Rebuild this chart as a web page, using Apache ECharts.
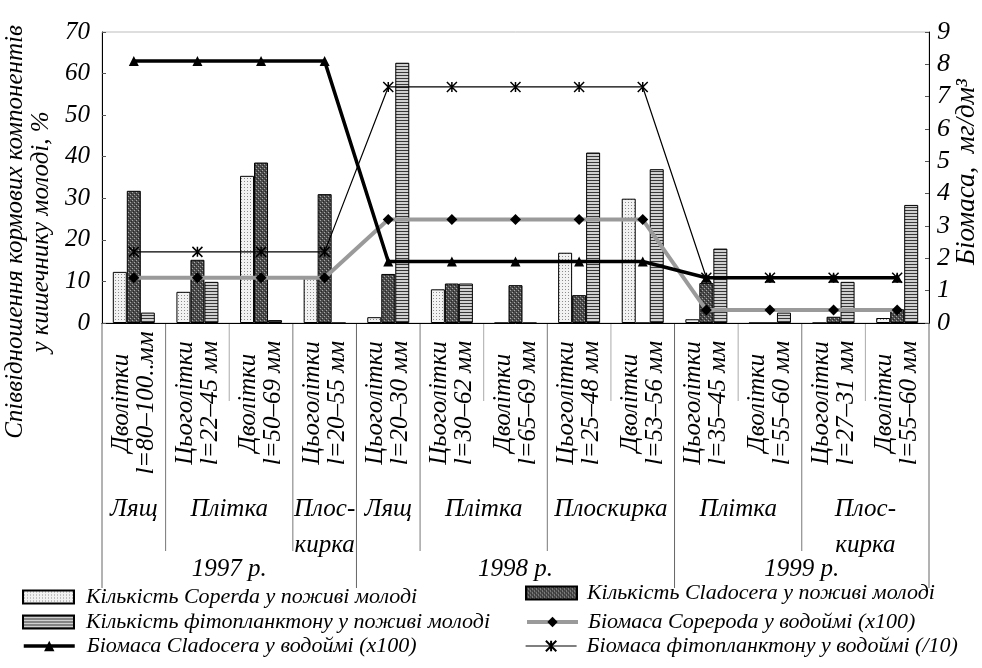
<!DOCTYPE html>
<html>
<head>
    <meta charset="utf-8">
    <title>ECharts</title>
    <script src="https://cdn.jsdelivr.net/npm/echarts@6/dist/echarts.min.js"></script>
</head>
<body style="margin:0;background:#fff">
    <div id="main" style="width: 982px;height:668px;"></div>
    <script type="text/javascript">
// --- data ---
var ages = ['Дволітки', 'Цьоголітки', 'Дволітки', 'Цьоголітки', 'Цьоголітки', 'Цьоголітки', 'Дволітки',
            'Цьоголітки', 'Дволітки', 'Цьоголітки', 'Дволітки', 'Цьоголітки', 'Дволітки'];
var lengths = ['l=80–100..мм', 'l=22–45 мм', 'l=50–69 мм', 'l=20–55 мм', 'l=20–30 мм', 'l=30–62 мм', 'l=65–69 мм',
               'l=25–48 мм', 'l=53–56 мм', 'l=35–45 мм', 'l=55–60 мм', 'l=27–31 мм', 'l=55–60 мм'];
var species = ['Лящ', 'Плітка', 'Плос-\nкирка', 'Лящ', 'Плітка', 'Плоскирка', 'Плітка', 'Плос-\nкирка'];
var speciesSpan = [1, 2, 1, 1, 2, 2, 2, 2];
var years = ['1997 р.', '1998 р.', '1999 р.'];
var yearSpan = [4, 5, 4];

var copepodCount   = [12.3, 7.5, 35.4, 11.3, 1.4, 8.1, 0, 16.9, 29.9, 0.9, 0, 0, 1.2];
var cladoceraCount = [31.8, 15.2, 38.6, 31.0, 11.8, 9.5, 9.1, 6.7, 0, 9.6, 0, 1.5, 3.3];
var phytoCount     = [2.5, 9.9, 0.7, 0, 62.6, 9.5, 0, 41.0, 37.0, 17.9, 2.5, 9.9, 28.4];

var cladoceraBio = [8.1, 8.1, 8.1, 8.1, 1.9, 1.9, 1.9, 1.9, 1.9, 1.4, 1.4, 1.4, 1.4];
var copepodaBio  = [1.4, 1.4, 1.4, 1.4, 3.2, 3.2, 3.2, 3.2, 3.2, 0.4, 0.4, 0.4, 0.4];
var phytoBio     = [2.2, 2.2, 2.2, 2.2, 7.3, 7.3, 7.3, 7.3, 7.3, 1.4, 1.4, 1.4, 1.4];

var leftTicks = [0, 10, 20, 30, 40, 50, 60, 70];
var rightTicks = [0, 1, 2, 3, 4, 5, 6, 7, 8, 9];

var categories = ages.map(function (a, i) { return a + '\n' + lengths[i]; });

var FONT = 'Liberation Serif';

// small canvas patterns for the bar fills
function pattern(w, h, draw) {
    var c = document.createElement('canvas');
    c.width = w; c.height = h;
    draw(c.getContext('2d'));
    return { image: c, repeat: 'repeat' };
}
var dotFill = pattern(3, 3, function (g) {
    g.fillStyle = '#f2f2f2'; g.fillRect(0, 0, 3, 3);
    g.fillStyle = '#8c8c8c'; g.fillRect(1, 1, 1, 1);
});
var hatchFill = pattern(4, 4, function (g) {
    g.fillStyle = '#4c4c4c'; g.fillRect(0, 0, 4, 4);
    g.fillStyle = '#a8a8a8'; g.fillRect(0, 0, 1, 1); g.fillRect(2, 2, 1, 1);
    g.fillStyle = '#262626'; g.fillRect(1, 3, 1, 1); g.fillRect(3, 1, 1, 1);
});
var stripeFill = pattern(4, 3, function (g) {
    g.fillStyle = '#d0d0d0'; g.fillRect(0, 0, 4, 3);
    g.fillStyle = '#383838'; g.fillRect(0, 0, 4, 1);
});

var myChart = echarts.init(document.getElementById('main'));

var labelStyle = { fontFamily: FONT, fontStyle: 'italic', color: '#000' };

var names = {
    cop: 'Кількість Coperda у поживі молоді',
    cla: 'Кількість Cladocera у поживі молоді',
    phy: 'Кількість фітопланктону у поживі молоді',
    bcla: 'Біомаса Cladocera у водоймі (x100)',
    bcop: 'Біомаса Copepoda у водоймі (x100)',
    bphy: 'Біомаса фітопланктону у водоймі (/10)'
};
var barNames = [names.cop, names.cla, names.phy];
var lineLegendWidth = {};
lineLegendWidth[names.bcla] = 3.5;
lineLegendWidth[names.bcop] = 4;
lineLegendWidth[names.bphy] = 1.2;

// one legend per entry, two columns of three
var legendCols = [[names.cop, names.phy, names.bcla], [names.cla, names.bcop, names.bphy]];
var legendLeft = [22, 525];
var legendTop = [[585, 610, 634], [581, 610, 634]];
var legends = [];
legendCols.forEach(function (col, c) {
    col.forEach(function (name, r) {
        var l = {
            left: legendLeft[c], top: legendTop[c][r], padding: 0,
            itemWidth: 51, itemHeight: 13, selectedMode: false,
            textStyle: { fontFamily: FONT, fontStyle: 'italic', fontSize: 22, color: '#000',
                         lineHeight: 24, padding: [0, 0, 0, c === 0 ? 7 : 5] },
            data: [name]
        };
        if (barNames.indexOf(name) >= 0) l.icon = 'rect';
        else l.lineStyle = { width: lineLegendWidth[name] };
        legends.push(l);
    });
});

option = {
    backgroundColor: '#fff',
    animation: false,
    grid: { left: 102, right: 53, top: 32, bottom: 345, show: true, borderColor: '#bdbdbd', borderWidth: 1 },
    legend: legends,
    xAxis: {
        type: 'category',
        data: categories,
        axisLine: { lineStyle: { color: '#000', width: 1 } },
        axisTick: { show: false },
        axisLabel: Object.assign({
            interval: 0, rotate: 90, align: 'center', verticalAlign: 'middle',
            margin: 80, fontSize: 25, lineHeight: 25
        }, labelStyle)
    },
    yAxis: [
        {
            type: 'value', min: leftTicks[0], max: leftTicks[leftTicks.length - 1], interval: 10,
            splitLine: { show: false },
            axisLine: { show: true, lineStyle: { color: '#000' } },
            axisTick: { show: true, inside: true, length: 4, lineStyle: { color: '#555' } },
            axisLabel: Object.assign({ fontSize: 25, margin: 12 }, labelStyle)
        },
        {
            type: 'value', min: rightTicks[0], max: rightTicks[rightTicks.length - 1], interval: 1,
            splitLine: { show: false },
            axisLine: { show: true, lineStyle: { color: '#000' } },
            axisTick: { show: true, inside: true, length: 4, lineStyle: { color: '#555' } },
            axisLabel: Object.assign({ fontSize: 26, margin: 8 }, labelStyle)
        }
    ],
    series: [
        {
            name: names.cop, type: 'bar', data: copepodCount, barWidth: 14, barGap: '0%',
            itemStyle: { color: dotFill, borderColor: '#000', borderWidth: 1 }
        },
        {
            name: names.cla, type: 'bar', data: cladoceraCount, barWidth: 14, barGap: '0%',
            itemStyle: { color: hatchFill, borderColor: '#000', borderWidth: 1 }
        },
        {
            name: names.phy, type: 'bar', data: phytoCount, barWidth: 14, barGap: '0%',
            itemStyle: { color: stripeFill, borderColor: '#000', borderWidth: 1 }
        },
        {
            name: names.bcla, type: 'line', yAxisIndex: 1, data: cladoceraBio, z: 5,
            symbol: 'triangle', symbolSize: 10,
            lineStyle: { color: '#000', width: 3.5 },
            itemStyle: { color: '#000' }
        },
        {
            name: names.bcop, type: 'line', yAxisIndex: 1, data: copepodaBio, z: 4,
            symbol: 'diamond', symbolSize: 11,
            lineStyle: { color: '#9a9a9a', width: 4 },
            itemStyle: { color: '#000' }
        },
        {
            name: names.bphy, type: 'line', yAxisIndex: 1, data: phytoBio, z: 6,
            symbol: 'path://M0,0L10,10M10,0L0,10M5,0L5,10', symbolSize: 10,
            lineStyle: { color: '#000', width: 1.2 },
            itemStyle: { color: '#000', borderColor: '#000', borderWidth: 1.5 }
        }
    ]
};

myChart.setOption(option);

// group labels, separators and axis titles, placed through the axis scales
var x0 = myChart.convertToPixel({ xAxisIndex: 0 }, 0);
var x1 = myChart.convertToPixel({ xAxisIndex: 0 }, 1);
var band = x1 - x0;
var axisY = myChart.convertToPixel({ yAxisIndex: 0 }, 0);
function edge(b) { return x0 - band / 2 + b * band; }

var graphics = [];
function vline(b, len, color) {
    graphics.push({
        type: 'line', shape: { x1: edge(b), y1: axisY, x2: edge(b), y2: axisY + len },
        style: { stroke: color, lineWidth: 1 }, silent: true
    });
}

// boundary kinds: year edges long, species edges mid, inside species short
var kind = {};
var b = 0;
yearSpan.forEach(function (n) { kind[b] = 'year'; b += n; });
kind[b] = 'year';
b = 0;
speciesSpan.forEach(function (n) { if (!kind[b]) kind[b] = 'sp'; b += n; });
for (var i = 0; i <= categories.length; i++) {
    if (kind[i] === 'year') vline(i, 265, '#666');
    else if (kind[i] === 'sp') vline(i, 228, '#777');
    else vline(i, 78, '#aaa');
}

function txt(text, x, y, size) {
    graphics.push({
        type: 'text', x: x, y: y, silent: true,
        style: {
            text: text, fontFamily: FONT, fontStyle: 'italic', fontSize: size, fill: '#000',
            align: 'center', verticalAlign: 'top', textAlign: 'center', textVerticalAlign: 'top',
            lineHeight: 36
        }
    });
}

b = 0;
species.forEach(function (s, k) {
    txt(s, edge(b + speciesSpan[k] / 2), axisY + 168, 25);
    b += speciesSpan[k];
});
b = 0;
years.forEach(function (y, k) {
    txt(y, edge(b + yearSpan[k] / 2), axisY + 228, 25);
    b += yearSpan[k];
});

// axis titles
graphics.push({
    type: 'text', x: 2, y: 232, rotation: Math.PI / 2, silent: true,
    style: {
        text: 'Співвідношення кормових компонентів\nу кишечнику молоді, %',
        fontFamily: FONT, fontStyle: 'italic', fontSize: 25, fill: '#000', lineHeight: 26,
        align: 'center', verticalAlign: 'top', textAlign: 'center', textVerticalAlign: 'top'
    }
});
graphics.push({
    type: 'text', x: 953, y: 172, rotation: Math.PI / 2, silent: true,
    style: {
        text: 'Біомаса,  мг/дм³',
        fontFamily: FONT, fontStyle: 'italic', fontSize: 27, fill: '#000',
        align: 'center', verticalAlign: 'top', textAlign: 'center', textVerticalAlign: 'top'
    }
});

myChart.setOption({ graphic: graphics });
    </script>
</body>
</html>
